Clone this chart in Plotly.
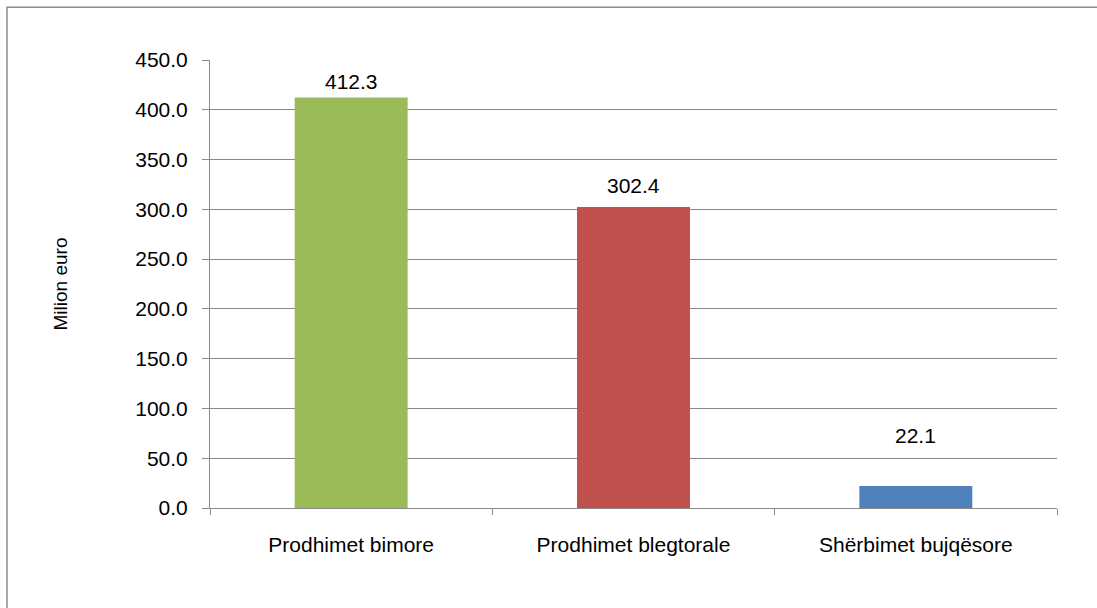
import plotly.graph_objects as go

categories = ["Prodhimet bimore", "Prodhimet blegtorale", "Shërbimet bujqësore"]
values = [412.3, 302.4, 22.1]
value_labels = ["412.3", "302.4", "22.1"]
bar_colors = ["#9BBB59", "#C0504D", "#4F81BD"]
y_tick_values = [0, 50, 100, 150, 200, 250, 300, 350, 400, 450]
y_axis_title = "Milion euro"

FONT = "Liberation Sans, Arial, sans-serif"
GRID = "#898989"

fig = go.Figure()
fig.add_trace(go.Bar(
    x=categories,
    y=values,
    marker=dict(color=bar_colors, line=dict(width=0)),
    hoverinfo="skip",
))

label_shifts = [16, 21, 51]
for cat, val, lab, sh in zip(categories, values, value_labels, label_shifts):
    fig.add_annotation(x=cat, y=val, text=lab, showarrow=False,
                       yanchor="middle", yshift=sh,
                       font=dict(family=FONT, size=21, color="#000000"))

fig.update_layout(
    width=1097, height=608,
    margin=dict(l=210, r=40, t=60, b=100),
    paper_bgcolor="white", plot_bgcolor="white",
    bargap=0.6,
    showlegend=False,
    hovermode=False,
    font=dict(family=FONT, color="#000000"),
    xaxis=dict(
        showline=True, linecolor=GRID, linewidth=1,
        ticks="outside", ticklen=6, tickcolor=GRID, tickwidth=1,
        tickson="boundaries",
        showgrid=False,
        tickfont=dict(family=FONT, size=21, color="#000000"),
        ticklabelstandoff=18,
    ),
    yaxis=dict(
        range=[0, 450],
        tickvals=y_tick_values,
        tickformat=".1f",
        showline=True, linecolor=GRID, linewidth=1,
        ticks="outside", ticklen=7, tickcolor=GRID, tickwidth=1,
        showgrid=True, gridcolor=GRID, gridwidth=1,
        zeroline=False,
        tickfont=dict(family=FONT, size=21, color="#000000"),
        ticklabelstandoff=10,
        title=dict(text=y_axis_title, font=dict(family=FONT, size=19, color="#000000"),
                   standoff=62),
    ),
    shapes=[dict(type="rect", xref="paper", yref="paper",
                 x0=-0.2397, x1=1.2, y0=-0.6, y1=1.118,
                 line=dict(color="#8c8c8c", width=1.5), fillcolor="rgba(0,0,0,0)",
                 layer="below")],
)

fig.write_html("out.html",
               config={"displayModeBar": False},
               post_script="document.body.style.margin='0';document.body.style.overflow='hidden';")
